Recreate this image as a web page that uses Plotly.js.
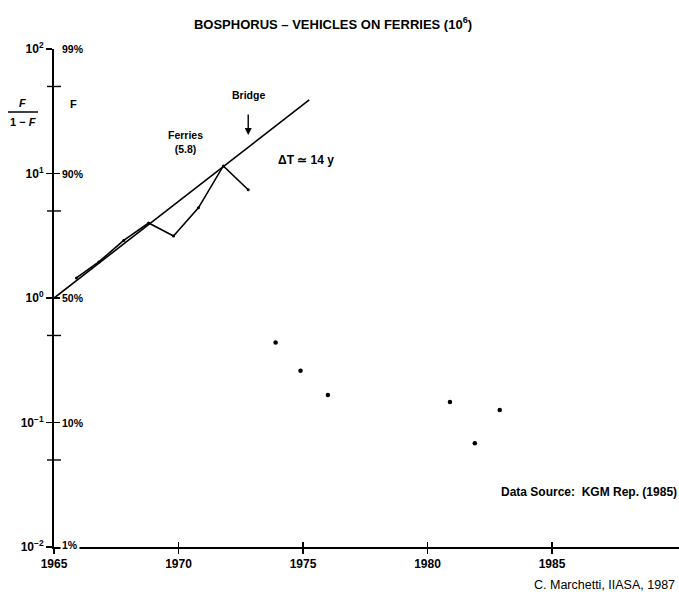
<!DOCTYPE html>
<html><head><meta charset="utf-8">
<script src="https://cdn.plot.ly/plotly-3.0.1.min.js"></script>
<style>body{margin:0;background:#fff}#chart{width:679px;height:596px}</style>
</head><body><div id="chart"></div>
<script>
// Observed F/(1-F) for vehicles carried on ferries
var ferryYears = [1965.9, 1966.8, 1967.8, 1968.8, 1969.8, 1970.8, 1971.8, 1972.8];
var ferryValues = [1.45, 1.95, 2.9, 4.0, 3.15, 5.3, 11.5, 7.4];
// Later isolated points
var dotYears = [1973.9, 1974.9, 1976.0, 1980.9, 1981.9, 1982.9];
var dotValues = [0.44, 0.26, 0.166, 0.146, 0.068, 0.126];
// Fitted logistic (straight on Fisher-Pry scale)
var fitYears = [1965, 1975.25];
var fitValues = [1.0, 39];
// Axis ticks
var xTicks = [1965, 1970, 1975, 1980, 1985];
var yTickVals = [0.01, 0.1, 1, 10, 100];
var yTickLeft = ["10<sup>−2</sup>", "10<sup>−1</sup>", "10<sup>0</sup>", "10<sup>1</sup>", "10<sup>2</sup>"];
var yTickRight = ["1%", "10%", "50%", "90%", "99%"];
var yMinorVals = [0.05, 0.5, 5, 50];

var FONT = "Liberation Sans, Arial, sans-serif";
function f(size, bold) { return {family: FONT, size: size, color: "#000", weight: bold ? "bold" : "normal"}; }

var traces = [
  {x: fitYears, y: fitValues, mode: "lines", line: {color: "#000", width: 1.6}},
  {x: ferryYears, y: ferryValues, mode: "lines+markers", line: {color: "#000", width: 1.6},
   marker: {color: "#000", size: 3}},
  {x: dotYears, y: dotValues, mode: "markers", marker: {color: "#000", size: 4.5}},
  {x: yMinorVals.map(function(){return 1965;}), y: yMinorVals, mode: "markers", xaxis: "x2", yaxis: "y2",
   marker: {symbol: "line-ew", size: 10, line: {color: "#000", width: 1.4}}, cliponaxis: false}
];

var annotations = [
  {x: 1972.8, y: 1.63, text: "<b>Bridge</b>", showarrow: false, font: f(10.5)},
  {x: 1972.8, y: 1.31, ax: 0, ay: -22, text: "", showarrow: true, arrowhead: 2, arrowsize: 1, arrowwidth: 1.4, arrowcolor: "#000"},
  {x: 1970.3, y: 1.25, text: "<b>Ferries<br>(5.8)</b>", showarrow: false, font: f(10.5)},
  {x: 1973.9, y: 1.11, xanchor: "left", yanchor: "middle", text: "<b>ΔT ≃ 14 y</b>", showarrow: false, font: f(12)},
  {x: 1, xref: "paper", y: -1.56, xanchor: "right", yanchor: "middle", text: "<b>Data Source:  KGM Rep. (1985)</b>", showarrow: false, font: f(12)},
  {x: (677 - 54) / 625, xref: "paper", xanchor: "right", y: (547 - 585) / 498, yref: "paper", yanchor: "middle",
   text: "C. Marchetti, IIASA, 1987", showarrow: false, font: f(12.5)},
  {x: (22 - 54) / 625, xref: "paper", xanchor: "center", y: (547 - 103) / 498, yref: "paper", yanchor: "middle",
   text: "<b><i>F</i></b>", showarrow: false, font: f(11)},
  {x: (23 - 54) / 625, xref: "paper", xanchor: "center", y: (547 - 122) / 498, yref: "paper", yanchor: "middle",
   text: "<b>1 − <i>F</i></b>", showarrow: false, font: f(11)},
  {x: (73 - 54) / 625, xref: "paper", xanchor: "center", y: (547 - 104) / 498, yref: "paper", yanchor: "middle",
   text: "<b>F</b>", showarrow: false, font: f(11)}
];
// percentage labels on the right of the axis
yTickVals.forEach(function(v, i) {
  var a = {x: (60 - 54) / 625, xref: "paper", xanchor: "left", y: Math.log10(v), yref: "y", yanchor: "middle",
    text: "<b>" + yTickRight[i] + "</b>", showarrow: false, font: f(10.5)};
  if (i === 0) { a.yshift = 2; a.bgcolor = "#fff"; }
  annotations.push(a);
});

var layout = {
  width: 679, height: 596,
  margin: {l: 54, r: 0, t: 49, b: 49},
  paper_bgcolor: "#fff", plot_bgcolor: "#fff",
  showlegend: false,
  title: {text: "<b>BOSPHORUS – VEHICLES ON FERRIES (10<sup>6</sup>)</b>", font: f(13),
          x: 333 / 679, xref: "container", xanchor: "center", y: 1 - 24 / 596, yref: "container", yanchor: "middle"},
  xaxis: {range: [1965, 1990.1], tickvals: xTicks, ticktext: xTicks.map(String), ticks: "outside", ticklen: 5,
          tickcolor: "#000", tickwidth: 1.2, showline: true, linecolor: "#000", linewidth: 2, showgrid: false,
          zeroline: false, tickfont: f(12, true)},
  xaxis2: {range: [1965, 1990.1], overlaying: "x", tickvals: xTicks, ticks: "inside", ticklen: 5, tickcolor: "#000",
           tickwidth: 1.2, showticklabels: false, showgrid: false, zeroline: false},
  yaxis: {type: "log", range: [-2, 2], tickvals: yTickVals, ticktext: yTickLeft, ticks: "outside", ticklen: 6,
          tickcolor: "#000", tickwidth: 1.2, showline: true, linecolor: "#000", linewidth: 2, showgrid: false,
          zeroline: false, tickfont: f(12, true)},
  yaxis2: {type: "log", range: [-2, 2], overlaying: "y", side: "left", tickvals: yTickVals,
           ticks: "inside", ticklen: 6, tickcolor: "#000", tickwidth: 1.2, showticklabels: false,
           showgrid: false, zeroline: false},
  annotations: annotations,
  shapes: [
    {type: "line", xref: "paper", yref: "paper", x0: (8 - 54) / 625, x1: (38 - 54) / 625,
     y0: (547 - 112) / 498, y1: (547 - 112) / 498, line: {color: "#000", width: 1.5}}
  ]
};

Plotly.newPlot("chart", traces, layout, {staticPlot: true});
</script></body></html>
